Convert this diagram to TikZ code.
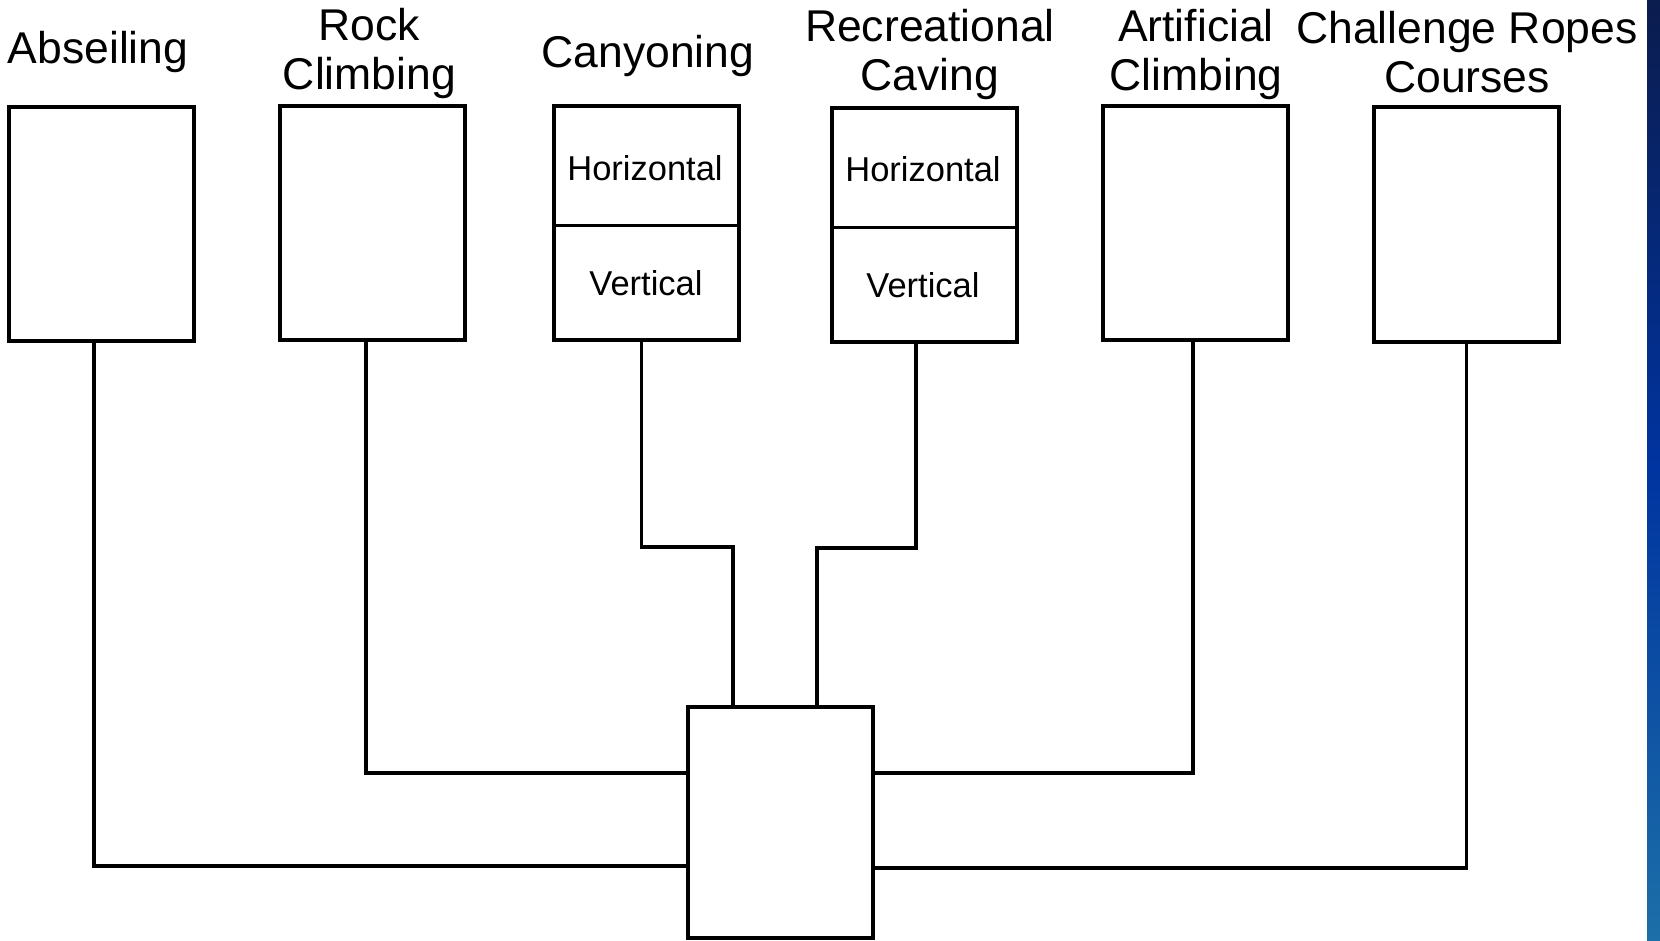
\documentclass[tikz,border=0pt]{standalone}
\usepackage{fontspec}
\setmainfont{Liberation Sans}
\usepackage{tikz}
\usetikzlibrary{positioning}

\definecolor{stripTop}{HTML}{0B1C4E}
\definecolor{stripMid}{HTML}{0034A0}
\definecolor{stripBot}{HTML}{1C6FA8}

\tikzset{
  sportbox/.style={draw, line width=4pt, inner sep=0pt, minimum width=185pt, minimum height=234pt},
  sportlabel/.style={anchor=north, inner sep=0pt, align=center, font=\fontsize{44.5}{49}\selectfont},
  partlabel/.style={inner sep=0pt, font=\fontsize{34.5}{40}\selectfont},
  link/.style={line width=3.5pt}
}

\begin{document}
\begin{tikzpicture}[x=1pt, y=-1pt]
   \fill[white] (0,0) rectangle (1660,941);
   \shade[top color=stripTop, bottom color=stripBot, middle color=stripMid] (1647,0) rectangle (1660,941);

   % activity boxes
   \node[sportbox] (abs)  at (101,224)   {};
   \node[sportbox] (rock) at (372,223)   {};
   \node[sportbox] (cany) at (646.5,223) {};
   \node[sportbox] (cave) at (924.5,225) {};
   \node[sportbox] (art)  at (1195.5,223) {};
   \node[sportbox] (chal) at (1466.5,224.5) {};
   \node[sportbox, minimum height=231pt] (hub) at (780.5,822.5) {};

   % titles
   \node[sportlabel] (absT)  at (98,31)    {Abseiling};
   \node[sportlabel] (rockT) at (369.5,8)  {Rock\\Climbing};
   \node[sportlabel] (canyT) at (648,35)   {Canyoning};
   \node[sportlabel] (caveT) at (930,9)    {Recreational\\Caving};
   \node[sportlabel] (artT)  at (1196,9)   {Artificial\\Climbing};
   \node[sportlabel] (chalT) at (1467,11)  {Challenge Ropes\\Courses};

   % split boxes
   \draw[line width=3.5pt] ([yshift=-2.5pt]cany.west) -- ([yshift=-2.5pt]cany.east);
   \draw[line width=3.5pt] ([yshift=-2.6pt]cave.west) -- ([yshift=-2.6pt]cave.east);
   \node[partlabel] (canyH) at (645,168) {Horizontal};
   \node[partlabel] (canyV) at (646,283) {Vertical};
   \node[partlabel] (caveH) at (923,169) {Horizontal};
   \node[partlabel] (caveV) at (923,285) {Vertical};

   % connectors to the hub
   \coordinate (canyK) at (733,547);
   \coordinate (caveK) at (817,548);
   \draw[link] ([xshift=-7pt]abs.south) |- ([yshift=-43.5pt]hub.west);
   \draw[link] ([xshift=-6pt]rock.south) |- ([yshift=49.5pt]hub.west);
   \draw[link] ([xshift=-5pt]cany.south) |- (canyK) -- (canyK |- hub.north);
   \draw[link] ([xshift=-8.5pt]cave.south) |- (caveK) -- (caveK |- hub.north);
   \draw[link] ([xshift=-2.5pt]art.south) |- ([yshift=49.5pt]hub.east);
   \draw[link] (chal.south) |- ([yshift=-45.5pt]hub.east);
\end{tikzpicture}
\end{document}
